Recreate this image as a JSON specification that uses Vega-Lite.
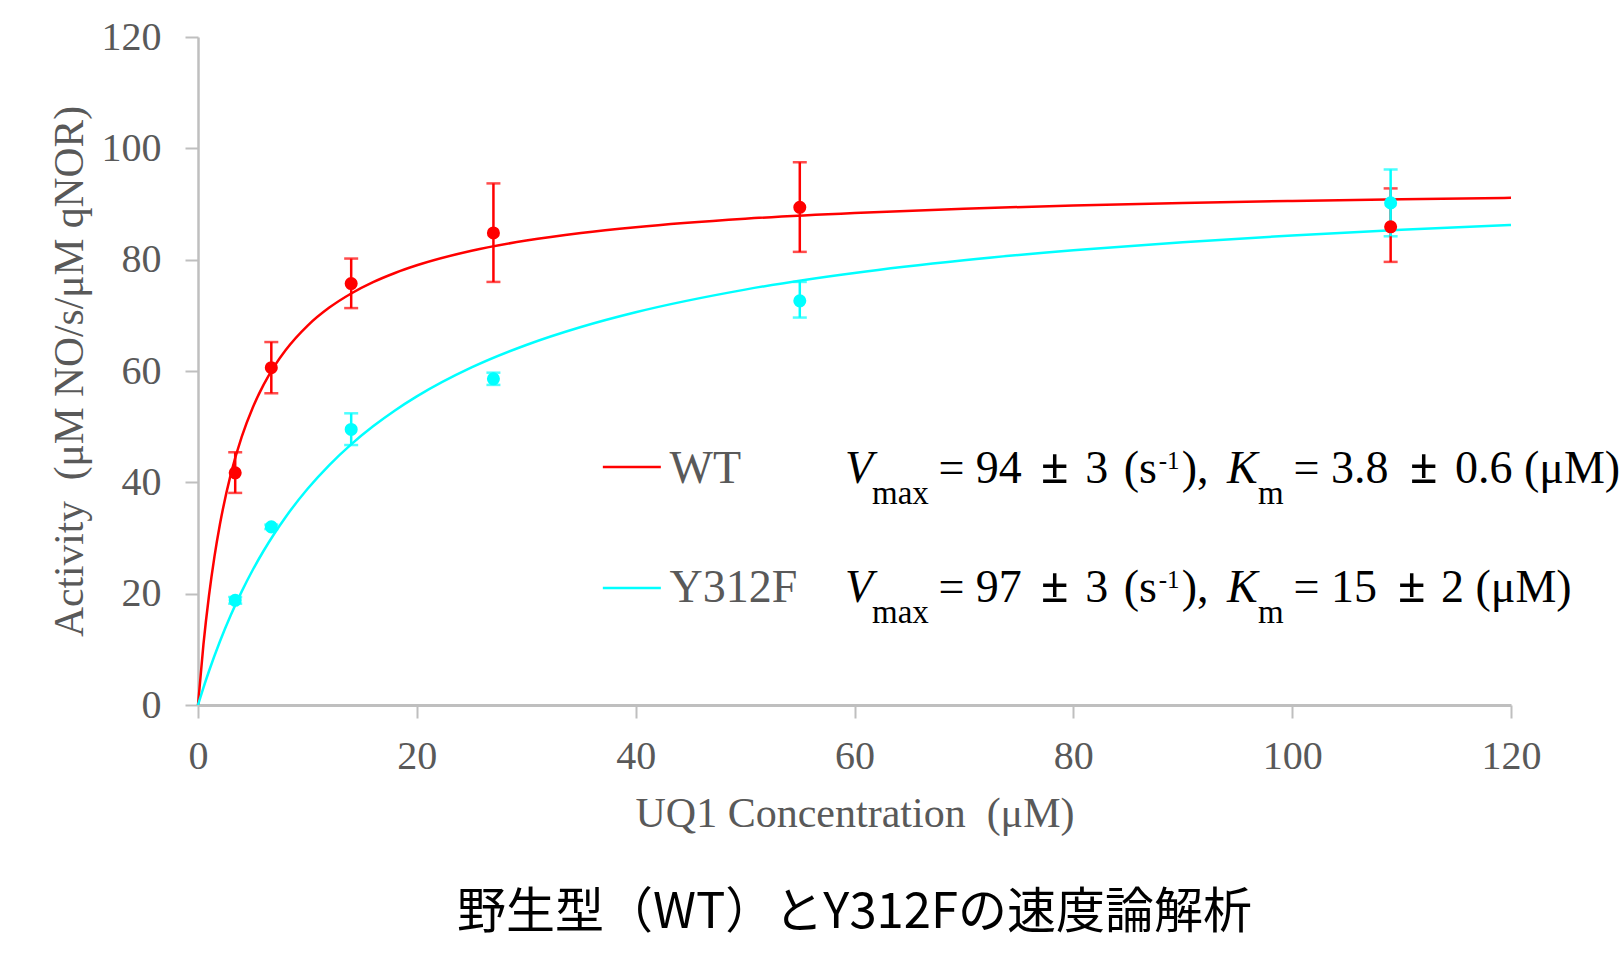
{
  "$schema": "https://vega.github.io/schema/vega-lite/v6.json",
  "width": 1313,
  "height": 668,
  "autosize": {"type": "none"},
  "padding": {"left": 198, "top": 37, "right": 113, "bottom": 255},
  "background": "white",
  "config": {"view": {"stroke": null}, "font": "Liberation Serif"},
  "title": {
    "text": "野生型（WT）とY312Fの速度論解析",
    "orient": "bottom",
    "anchor": "middle",
    "font": "Noto Sans CJK JP",
    "fontSize": 49,
    "fontWeight": "normal",
    "color": "#000000",
    "offset": 55
  },
  "datasets": {
    "curves": [
      {"conc": 0, "activity": 0, "enzyme": "WT"},
      {"conc": 0.5, "activity": 10.93, "enzyme": "WT"},
      {"conc": 1, "activity": 19.58, "enzyme": "WT"},
      {"conc": 1.5, "activity": 26.6, "enzyme": "WT"},
      {"conc": 2, "activity": 32.41, "enzyme": "WT"},
      {"conc": 3, "activity": 41.47, "enzyme": "WT"},
      {"conc": 4, "activity": 48.21, "enzyme": "WT"},
      {"conc": 5, "activity": 53.41, "enzyme": "WT"},
      {"conc": 6, "activity": 57.55, "enzyme": "WT"},
      {"conc": 7, "activity": 60.93, "enzyme": "WT"},
      {"conc": 8, "activity": 63.73, "enzyme": "WT"},
      {"conc": 10, "activity": 68.12, "enzyme": "WT"},
      {"conc": 12, "activity": 71.39, "enzyme": "WT"},
      {"conc": 14, "activity": 73.93, "enzyme": "WT"},
      {"conc": 16, "activity": 75.96, "enzyme": "WT"},
      {"conc": 18, "activity": 77.61, "enzyme": "WT"},
      {"conc": 20, "activity": 78.99, "enzyme": "WT"},
      {"conc": 25, "activity": 81.6, "enzyme": "WT"},
      {"conc": 30, "activity": 83.43, "enzyme": "WT"},
      {"conc": 35, "activity": 84.79, "enzyme": "WT"},
      {"conc": 40, "activity": 85.84, "enzyme": "WT"},
      {"conc": 50, "activity": 87.36, "enzyme": "WT"},
      {"conc": 60, "activity": 88.4, "enzyme": "WT"},
      {"conc": 70, "activity": 89.16, "enzyme": "WT"},
      {"conc": 80, "activity": 89.74, "enzyme": "WT"},
      {"conc": 90, "activity": 90.19, "enzyme": "WT"},
      {"conc": 100, "activity": 90.56, "enzyme": "WT"},
      {"conc": 110, "activity": 90.86, "enzyme": "WT"},
      {"conc": 120, "activity": 91.11, "enzyme": "WT"},
      {"conc": 0, "activity": 0, "enzyme": "Y312F"},
      {"conc": 0.5, "activity": 3.13, "enzyme": "Y312F"},
      {"conc": 1, "activity": 6.06, "enzyme": "Y312F"},
      {"conc": 2, "activity": 11.41, "enzyme": "Y312F"},
      {"conc": 3, "activity": 16.17, "enzyme": "Y312F"},
      {"conc": 4, "activity": 20.42, "enzyme": "Y312F"},
      {"conc": 5, "activity": 24.25, "enzyme": "Y312F"},
      {"conc": 6, "activity": 27.71, "enzyme": "Y312F"},
      {"conc": 7, "activity": 30.86, "enzyme": "Y312F"},
      {"conc": 8, "activity": 33.74, "enzyme": "Y312F"},
      {"conc": 10, "activity": 38.8, "enzyme": "Y312F"},
      {"conc": 12, "activity": 43.11, "enzyme": "Y312F"},
      {"conc": 14, "activity": 46.83, "enzyme": "Y312F"},
      {"conc": 16, "activity": 50.06, "enzyme": "Y312F"},
      {"conc": 18, "activity": 52.91, "enzyme": "Y312F"},
      {"conc": 20, "activity": 55.43, "enzyme": "Y312F"},
      {"conc": 25, "activity": 60.63, "enzyme": "Y312F"},
      {"conc": 30, "activity": 64.67, "enzyme": "Y312F"},
      {"conc": 35, "activity": 67.9, "enzyme": "Y312F"},
      {"conc": 40, "activity": 70.55, "enzyme": "Y312F"},
      {"conc": 50, "activity": 74.62, "enzyme": "Y312F"},
      {"conc": 60, "activity": 77.6, "enzyme": "Y312F"},
      {"conc": 70, "activity": 79.88, "enzyme": "Y312F"},
      {"conc": 80, "activity": 81.68, "enzyme": "Y312F"},
      {"conc": 90, "activity": 83.14, "enzyme": "Y312F"},
      {"conc": 100, "activity": 84.35, "enzyme": "Y312F"},
      {"conc": 110, "activity": 85.36, "enzyme": "Y312F"},
      {"conc": 120, "activity": 86.22, "enzyme": "Y312F"}
    ],
    "points": [
      {"conc": 3.4, "activity": 41.7, "lo": 38.1, "hi": 45.4, "enzyme": "WT"},
      {"conc": 6.7, "activity": 60.6, "lo": 56.0, "hi": 65.2, "enzyme": "WT"},
      {"conc": 14, "activity": 75.7, "lo": 71.3, "hi": 80.2, "enzyme": "WT"},
      {"conc": 27, "activity": 84.8, "lo": 76.0, "hi": 93.7, "enzyme": "WT"},
      {"conc": 55, "activity": 89.4, "lo": 81.4, "hi": 97.5, "enzyme": "WT"},
      {"conc": 109, "activity": 85.9, "lo": 79.6, "hi": 92.8, "enzyme": "WT"},
      {"conc": 3.4, "activity": 18.8, "lo": 18.2, "hi": 19.4, "enzyme": "Y312F"},
      {"conc": 6.7, "activity": 32.0, "lo": 31.6, "hi": 32.4, "enzyme": "Y312F"},
      {"conc": 14, "activity": 49.5, "lo": 46.7, "hi": 52.4, "enzyme": "Y312F"},
      {"conc": 27, "activity": 58.6, "lo": 57.5, "hi": 59.7, "enzyme": "Y312F"},
      {"conc": 55, "activity": 72.6, "lo": 69.6, "hi": 76.0, "enzyme": "Y312F"},
      {"conc": 109, "activity": 90.2, "lo": 84.2, "hi": 96.2, "enzyme": "Y312F"}
    ],
    "swatches": [
      {"enzyme": "WT", "x1": 37.0, "x2": 42.3, "y": 42.75},
      {"enzyme": "Y312F", "x1": 37.0, "x2": 42.3, "y": 21.0}
    ],
    "labels": [
      {"enzyme": "WT", "x": 43.1, "y": 39.88, "text": "WT"},
      {"enzyme": "Y312F", "x": 43.1, "y": 18.5, "text": "Y312F"}
    ],
    "formula": [
      {"row": "WT", "part": "italic", "x": 59.13, "y": 39.88, "text": "V"},
      {"row": "WT", "part": "sub", "x": 61.6, "y": 36.1, "text": "max"},
      {"row": "WT", "part": "normal", "x": 67.67, "y": 39.88, "text": "= 94"},
      {"row": "WT", "part": "pm", "x": 77.04, "y": 39.88, "text": "±"},
      {"row": "WT", "part": "normal", "x": 81.08, "y": 39.88, "text": "3"},
      {"row": "WT", "part": "normal", "x": 84.6, "y": 39.88, "text": "(s"},
      {"row": "WT", "part": "sup", "x": 87.8, "y": 42.4, "text": "-1"},
      {"row": "WT", "part": "normal", "x": 89.9, "y": 39.88, "text": "),"},
      {"row": "WT", "part": "italic", "x": 94.04, "y": 39.88, "text": "K"},
      {"row": "WT", "part": "sub", "x": 96.87, "y": 36.1, "text": "m"},
      {"row": "WT", "part": "normal", "x": 100.12, "y": 39.88, "text": "= 3.8"},
      {"row": "WT", "part": "pm", "x": 110.77, "y": 39.88, "text": "±"},
      {"row": "WT", "part": "normal", "x": 114.88, "y": 39.88, "text": "0.6 (μM)"},
      {"row": "Y312F", "part": "italic", "x": 59.13, "y": 18.5, "text": "V"},
      {"row": "Y312F", "part": "sub", "x": 61.6, "y": 14.73, "text": "max"},
      {"row": "Y312F", "part": "normal", "x": 67.67, "y": 18.5, "text": "= 97"},
      {"row": "Y312F", "part": "pm", "x": 77.04, "y": 18.5, "text": "±"},
      {"row": "Y312F", "part": "normal", "x": 81.08, "y": 18.5, "text": "3"},
      {"row": "Y312F", "part": "normal", "x": 84.6, "y": 18.5, "text": "(s"},
      {"row": "Y312F", "part": "sup", "x": 87.8, "y": 21.0, "text": "-1"},
      {"row": "Y312F", "part": "normal", "x": 89.9, "y": 18.5, "text": "),"},
      {"row": "Y312F", "part": "italic", "x": 94.04, "y": 18.5, "text": "K"},
      {"row": "Y312F", "part": "sub", "x": 96.87, "y": 14.73, "text": "m"},
      {"row": "Y312F", "part": "normal", "x": 100.12, "y": 18.5, "text": "= 15"},
      {"row": "Y312F", "part": "pm", "x": 109.67, "y": 18.5, "text": "±"},
      {"row": "Y312F", "part": "normal", "x": 113.6, "y": 18.5, "text": "2 (μM)"}
    ]
  },
  "layer": [
    {
      "data": {"name": "curves"},
      "mark": {"type": "line", "strokeWidth": 2.5, "interpolate": "monotone"},
      "encoding": {
        "x": {
          "field": "conc", "type": "quantitative",
          "title": "UQ1 Concentration\u00a0\u00a0(μM)",
          "scale": {"domain": [0, 120], "nice": false, "zero": true},
          "axis": {
            "values": [0, 20, 40, 60, 80, 100, 120],
            "grid": false,
            "labelFont": "Liberation Serif", "labelFontSize": 40, "labelColor": "#595959",
            "labelPadding": 18, "labelFlush": false, "labelOverlap": false,
            "domainColor": "#bfbfbf", "domainWidth": 3,
            "tickColor": "#bfbfbf", "tickWidth": 2, "tickSize": 13,
            "titleFont": "Liberation Serif", "titleFontSize": 42, "titleFontWeight": "normal",
            "titleColor": "#595959", "titlePadding": 17
          }
        },
        "y": {
          "field": "activity", "type": "quantitative",
          "title": "Activity\u00a0\u00a0(μM NO/s/μM qNOR)",
          "scale": {"domain": [0, 120], "nice": false},
          "axis": {
            "values": [0, 20, 40, 60, 80, 100, 120],
            "grid": false,
            "labelFont": "Liberation Serif", "labelFontSize": 40, "labelColor": "#595959",
            "labelPadding": 24, "labelFlush": false, "labelOverlap": false,
            "domainColor": "#bfbfbf", "domainWidth": 2.5,
            "tickColor": "#bfbfbf", "tickWidth": 2, "tickSize": 13,
            "titleFont": "Liberation Serif", "titleFontSize": 41.5, "titleFontWeight": "normal",
            "titleColor": "#595959", "titlePadding": 10
          }
        },
        "color": {
          "field": "enzyme", "type": "nominal",
          "scale": {"domain": ["WT", "Y312F"], "range": ["#FF0000", "#00FFFF"]},
          "legend": null
        }
      }
    },
    {
      "data": {"name": "points"},
      "mark": {"type": "errorbar", "ticks": true, "size": 14, "thickness": 2.5},
      "encoding": {
        "x": {"field": "conc", "type": "quantitative", "title": "UQ1 Concentration\u00a0\u00a0(μM)"},
        "y": {"field": "lo", "type": "quantitative", "title": "Activity\u00a0\u00a0(μM NO/s/μM qNOR)"},
        "y2": {"field": "hi"},
        "color": {"field": "enzyme", "type": "nominal", "legend": null}
      }
    },
    {
      "data": {"name": "points"},
      "mark": {"type": "circle", "size": 170, "opacity": 1},
      "encoding": {
        "x": {"field": "conc", "type": "quantitative", "title": "UQ1 Concentration\u00a0\u00a0(μM)"},
        "y": {"field": "activity", "type": "quantitative", "title": "Activity\u00a0\u00a0(μM NO/s/μM qNOR)"},
        "color": {"field": "enzyme", "type": "nominal", "legend": null}
      }
    },
    {
      "data": {"name": "swatches"},
      "mark": {"type": "rule", "strokeWidth": 2.5},
      "encoding": {
        "x": {"field": "x1", "type": "quantitative", "title": "UQ1 Concentration\u00a0\u00a0(μM)"},
        "x2": {"field": "x2"},
        "y": {"field": "y", "type": "quantitative", "title": "Activity\u00a0\u00a0(μM NO/s/μM qNOR)"},
        "color": {"field": "enzyme", "type": "nominal", "legend": null}
      }
    },
    {
      "data": {"name": "labels"},
      "mark": {"type": "text", "align": "left", "baseline": "alphabetic", "font": "Liberation Serif", "fontSize": 46, "color": "#595959"},
      "encoding": {
        "x": {"field": "x", "type": "quantitative", "title": "UQ1 Concentration\u00a0\u00a0(μM)"},
        "y": {"field": "y", "type": "quantitative", "title": "Activity\u00a0\u00a0(μM NO/s/μM qNOR)"},
        "text": {"field": "text"}
      }
    },
    {
      "data": {"name": "formula"},
      "transform": [{"filter": "datum.part === 'normal'"}],
      "mark": {"type": "text", "align": "left", "baseline": "alphabetic", "font": "Liberation Serif", "fontSize": 46, "color": "#000000"},
      "encoding": {
        "x": {"field": "x", "type": "quantitative", "title": "UQ1 Concentration\u00a0\u00a0(μM)"},
        "y": {"field": "y", "type": "quantitative", "title": "Activity\u00a0\u00a0(μM NO/s/μM qNOR)"},
        "text": {"field": "text"}
      }
    },
    {
      "data": {"name": "formula"},
      "transform": [{"filter": "datum.part === 'pm'"}],
      "mark": {"type": "text", "align": "left", "baseline": "alphabetic", "font": "Liberation Serif", "fontSize": 50, "fontWeight": "bold", "color": "#000000"},
      "encoding": {
        "x": {"field": "x", "type": "quantitative", "title": "UQ1 Concentration\u00a0\u00a0(μM)"},
        "y": {"field": "y", "type": "quantitative", "title": "Activity\u00a0\u00a0(μM NO/s/μM qNOR)"},
        "text": {"field": "text"}
      }
    },
    {
      "data": {"name": "formula"},
      "transform": [{"filter": "datum.part === 'italic'"}],
      "mark": {"type": "text", "align": "left", "baseline": "alphabetic", "font": "Liberation Serif", "fontSize": 46, "fontStyle": "italic", "color": "#000000"},
      "encoding": {
        "x": {"field": "x", "type": "quantitative", "title": "UQ1 Concentration\u00a0\u00a0(μM)"},
        "y": {"field": "y", "type": "quantitative", "title": "Activity\u00a0\u00a0(μM NO/s/μM qNOR)"},
        "text": {"field": "text"}
      }
    },
    {
      "data": {"name": "formula"},
      "transform": [{"filter": "datum.part === 'sub'"}],
      "mark": {"type": "text", "align": "left", "baseline": "alphabetic", "font": "Liberation Serif", "fontSize": 33, "color": "#000000"},
      "encoding": {
        "x": {"field": "x", "type": "quantitative", "title": "UQ1 Concentration\u00a0\u00a0(μM)"},
        "y": {"field": "y", "type": "quantitative", "title": "Activity\u00a0\u00a0(μM NO/s/μM qNOR)"},
        "text": {"field": "text"}
      }
    },
    {
      "data": {"name": "formula"},
      "transform": [{"filter": "datum.part === 'sup'"}],
      "mark": {"type": "text", "align": "left", "baseline": "alphabetic", "font": "Liberation Serif", "fontSize": 25, "color": "#000000"},
      "encoding": {
        "x": {"field": "x", "type": "quantitative", "title": "UQ1 Concentration\u00a0\u00a0(μM)"},
        "y": {"field": "y", "type": "quantitative", "title": "Activity\u00a0\u00a0(μM NO/s/μM qNOR)"},
        "text": {"field": "text"}
      }
    }
  ]
}
